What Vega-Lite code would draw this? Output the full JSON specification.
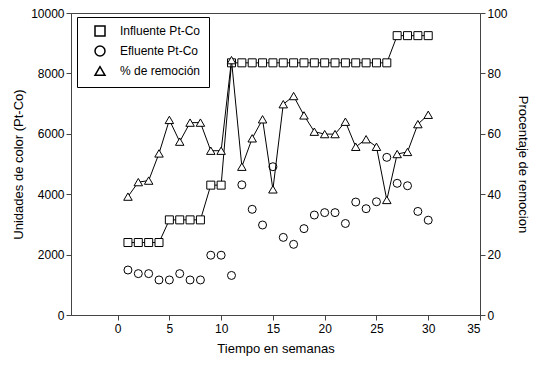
{
  "$schema": "https://vega.github.io/schema/vega-lite/v6.json",
  "width": 409,
  "height": 302,
  "autosize": {"type": "none"},
  "padding": {"left": 71, "top": 13, "right": 56, "bottom": 51},
  "background": "white",
  "config": {
    "font": "Liberation Sans",
    "view": {"stroke": "#444", "strokeWidth": 1},
    "axis": {
      "grid": false,
      "domainColor": "#444",
      "tickColor": "#444",
      "labelColor": "#000",
      "titleColor": "#000",
      "labelFont": "Liberation Sans",
      "titleFont": "Liberation Sans",
      "labelFontSize": 12,
      "titleFontSize": 13,
      "titleFontWeight": "normal",
      "tickSize": 5,
      "format": "d"
    }
  },
  "datasets": {
    "d": [
      {"semana": 1, "serie": "Influente Pt-Co", "valor": 2400},
      {"semana": 2, "serie": "Influente Pt-Co", "valor": 2400},
      {"semana": 3, "serie": "Influente Pt-Co", "valor": 2400},
      {"semana": 4, "serie": "Influente Pt-Co", "valor": 2400},
      {"semana": 5, "serie": "Influente Pt-Co", "valor": 3150},
      {"semana": 6, "serie": "Influente Pt-Co", "valor": 3150},
      {"semana": 7, "serie": "Influente Pt-Co", "valor": 3150},
      {"semana": 8, "serie": "Influente Pt-Co", "valor": 3150},
      {"semana": 9, "serie": "Influente Pt-Co", "valor": 4300},
      {"semana": 10, "serie": "Influente Pt-Co", "valor": 4300},
      {"semana": 11, "serie": "Influente Pt-Co", "valor": 8350},
      {"semana": 12, "serie": "Influente Pt-Co", "valor": 8350},
      {"semana": 13, "serie": "Influente Pt-Co", "valor": 8350},
      {"semana": 14, "serie": "Influente Pt-Co", "valor": 8350},
      {"semana": 15, "serie": "Influente Pt-Co", "valor": 8350},
      {"semana": 16, "serie": "Influente Pt-Co", "valor": 8350},
      {"semana": 17, "serie": "Influente Pt-Co", "valor": 8350},
      {"semana": 18, "serie": "Influente Pt-Co", "valor": 8350},
      {"semana": 19, "serie": "Influente Pt-Co", "valor": 8350},
      {"semana": 20, "serie": "Influente Pt-Co", "valor": 8350},
      {"semana": 21, "serie": "Influente Pt-Co", "valor": 8350},
      {"semana": 22, "serie": "Influente Pt-Co", "valor": 8350},
      {"semana": 23, "serie": "Influente Pt-Co", "valor": 8350},
      {"semana": 24, "serie": "Influente Pt-Co", "valor": 8350},
      {"semana": 25, "serie": "Influente Pt-Co", "valor": 8350},
      {"semana": 26, "serie": "Influente Pt-Co", "valor": 8350},
      {"semana": 27, "serie": "Influente Pt-Co", "valor": 9250},
      {"semana": 28, "serie": "Influente Pt-Co", "valor": 9250},
      {"semana": 29, "serie": "Influente Pt-Co", "valor": 9250},
      {"semana": 30, "serie": "Influente Pt-Co", "valor": 9250},
      {"semana": 1, "serie": "Efluente Pt-Co", "valor": 1490},
      {"semana": 2, "serie": "Efluente Pt-Co", "valor": 1370},
      {"semana": 3, "serie": "Efluente Pt-Co", "valor": 1370},
      {"semana": 4, "serie": "Efluente Pt-Co", "valor": 1160},
      {"semana": 5, "serie": "Efluente Pt-Co", "valor": 1160},
      {"semana": 6, "serie": "Efluente Pt-Co", "valor": 1370},
      {"semana": 7, "serie": "Efluente Pt-Co", "valor": 1160},
      {"semana": 8, "serie": "Efluente Pt-Co", "valor": 1160},
      {"semana": 9, "serie": "Efluente Pt-Co", "valor": 1980},
      {"semana": 10, "serie": "Efluente Pt-Co", "valor": 1980},
      {"semana": 11, "serie": "Efluente Pt-Co", "valor": 1310},
      {"semana": 12, "serie": "Efluente Pt-Co", "valor": 4310},
      {"semana": 13, "serie": "Efluente Pt-Co", "valor": 3500},
      {"semana": 14, "serie": "Efluente Pt-Co", "valor": 2980},
      {"semana": 15, "serie": "Efluente Pt-Co", "valor": 4910},
      {"semana": 16, "serie": "Efluente Pt-Co", "valor": 2570},
      {"semana": 17, "serie": "Efluente Pt-Co", "valor": 2340},
      {"semana": 18, "serie": "Efluente Pt-Co", "valor": 2860},
      {"semana": 19, "serie": "Efluente Pt-Co", "valor": 3310},
      {"semana": 20, "serie": "Efluente Pt-Co", "valor": 3390},
      {"semana": 21, "serie": "Efluente Pt-Co", "valor": 3390},
      {"semana": 22, "serie": "Efluente Pt-Co", "valor": 3030},
      {"semana": 23, "serie": "Efluente Pt-Co", "valor": 3740},
      {"semana": 24, "serie": "Efluente Pt-Co", "valor": 3520},
      {"semana": 25, "serie": "Efluente Pt-Co", "valor": 3750},
      {"semana": 26, "serie": "Efluente Pt-Co", "valor": 5220},
      {"semana": 27, "serie": "Efluente Pt-Co", "valor": 4360},
      {"semana": 28, "serie": "Efluente Pt-Co", "valor": 4280},
      {"semana": 29, "serie": "Efluente Pt-Co", "valor": 3430},
      {"semana": 30, "serie": "Efluente Pt-Co", "valor": 3140},
      {"semana": 1, "serie": "% de remoción", "valor": 39.2},
      {"semana": 2, "serie": "% de remoción", "valor": 44.0},
      {"semana": 3, "serie": "% de remoción", "valor": 44.5},
      {"semana": 4, "serie": "% de remoción", "valor": 53.5},
      {"semana": 5, "serie": "% de remoción", "valor": 64.6},
      {"semana": 6, "serie": "% de remoción", "valor": 57.4},
      {"semana": 7, "serie": "% de remoción", "valor": 63.7},
      {"semana": 8, "serie": "% de remoción", "valor": 63.7},
      {"semana": 9, "serie": "% de remoción", "valor": 54.4},
      {"semana": 10, "serie": "% de remoción", "valor": 54.4},
      {"semana": 11, "serie": "% de remoción", "valor": 84.4},
      {"semana": 12, "serie": "% de remoción", "valor": 49.1},
      {"semana": 13, "serie": "% de remoción", "valor": 58.5},
      {"semana": 14, "serie": "% de remoción", "valor": 64.8},
      {"semana": 15, "serie": "% de remoción", "valor": 41.6},
      {"semana": 16, "serie": "% de remoción", "valor": 69.8},
      {"semana": 17, "serie": "% de remoción", "valor": 72.5},
      {"semana": 18, "serie": "% de remoción", "valor": 66.1},
      {"semana": 19, "serie": "% de remoción", "valor": 60.7},
      {"semana": 20, "serie": "% de remoción", "valor": 59.9},
      {"semana": 21, "serie": "% de remoción", "valor": 59.9},
      {"semana": 22, "serie": "% de remoción", "valor": 64.0},
      {"semana": 23, "serie": "% de remoción", "valor": 55.7},
      {"semana": 24, "serie": "% de remoción", "valor": 58.2},
      {"semana": 25, "serie": "% de remoción", "valor": 55.7},
      {"semana": 26, "serie": "% de remoción", "valor": 38.1},
      {"semana": 27, "serie": "% de remoción", "valor": 53.3},
      {"semana": 28, "serie": "% de remoción", "valor": 54.0},
      {"semana": 29, "serie": "% de remoción", "valor": 63.2},
      {"semana": 30, "serie": "% de remoción", "valor": 66.3}
    ]
  },
  "encoding": {
    "x": {
      "field": "semana",
      "type": "quantitative",
      "scale": {"domain": [-4.5, 35], "nice": false, "zero": false},
      "axis": {"values": [0, 5, 10, 15, 20, 25, 30, 35], "title": "Tiempo en semanas", "titlePadding": 8, "labelPadding": 3}
    }
  },
  "layer": [
    {
      "data": {"name": "d"},
      "transform": [{"filter": "datum.serie !== '% de remoción'"}],
      "encoding": {
        "y": {
          "field": "valor",
          "type": "quantitative",
          "scale": {"domain": [0, 10000], "nice": false},
          "axis": {"orient": "left", "values": [0, 2000, 4000, 6000, 8000, 10000], "title": "Unidades de color (Pt-Co)", "titlePadding": 5}
        }
      },
      "layer": [
        {
          "transform": [{"filter": "datum.serie === 'Influente Pt-Co'"}],
          "mark": {"type": "line", "color": "#000", "strokeWidth": 1}
        },
        {
          "mark": {"type": "point", "filled": true, "fill": "white", "stroke": "#000", "strokeWidth": 1, "size": 64, "opacity": 1},
          "encoding": {
            "shape": {
              "field": "serie",
              "type": "nominal",
              "scale": {"domain": ["Influente Pt-Co", "Efluente Pt-Co", "% de remoción"], "range": ["square", "circle", "triangle-up"]},
              "legend": {
                "title": null,
                "orient": "none",
                "legendX": 6,
                "legendY": 4,
                "padding": 8,
                "strokeColor": "#000",
                "fillColor": "white",
                "labelFont": "Liberation Sans",
                "labelFontSize": 12,
                "labelColor": "#000",
                "symbolSize": 100,
                "rowPadding": 4,
                "labelOffset": 14,
                "symbolOffset": 9,
                "encode": {
                  "symbols": {
                    "shape": {"value": {"expr": "datum.value === 'Influente Pt-Co' ? 'M-2.7,0H-0.8M0.8,0H2.7M-0.8,-0.8H0.8V0.8H-0.8Z' : datum.value === 'Efluente Pt-Co' ? 'M0.9,0A0.9,0.9,0,1,1,-0.9,0A0.9,0.9,0,1,1,0.9,0Z' : 'M-2.7,0.35H-0.75M0.75,0.35H2.7M0,-0.95L0.95,0.7H-0.95Z'"}},
                    "fill": {"value": "white"},
                    "stroke": {"value": "#000"},
                    "strokeWidth": {"value": 1},
                    "size": {"value": 100},
                    "opacity": {"value": 1}
                  }
                }
              }
            }
          }
        }
      ]
    },
    {
      "data": {"name": "d"},
      "transform": [{"filter": "datum.serie === '% de remoción'"}],
      "encoding": {
        "y": {
          "field": "valor",
          "type": "quantitative",
          "scale": {"domain": [0, 100], "nice": false},
          "axis": {"orient": "right", "values": [0, 20, 40, 60, 80, 100], "title": "Procentaje de remocion", "titlePadding": 8}
        }
      },
      "layer": [
        {
          "mark": {"type": "line", "color": "#000", "strokeWidth": 1}
        },
        {
          "mark": {"type": "point", "filled": true, "fill": "white", "stroke": "#000", "strokeWidth": 1, "size": 72, "opacity": 1},
          "encoding": {
            "shape": {"field": "serie", "type": "nominal"}
          }
        }
      ]
    }
  ],
  "resolve": {"scale": {"y": "independent"}}
}
